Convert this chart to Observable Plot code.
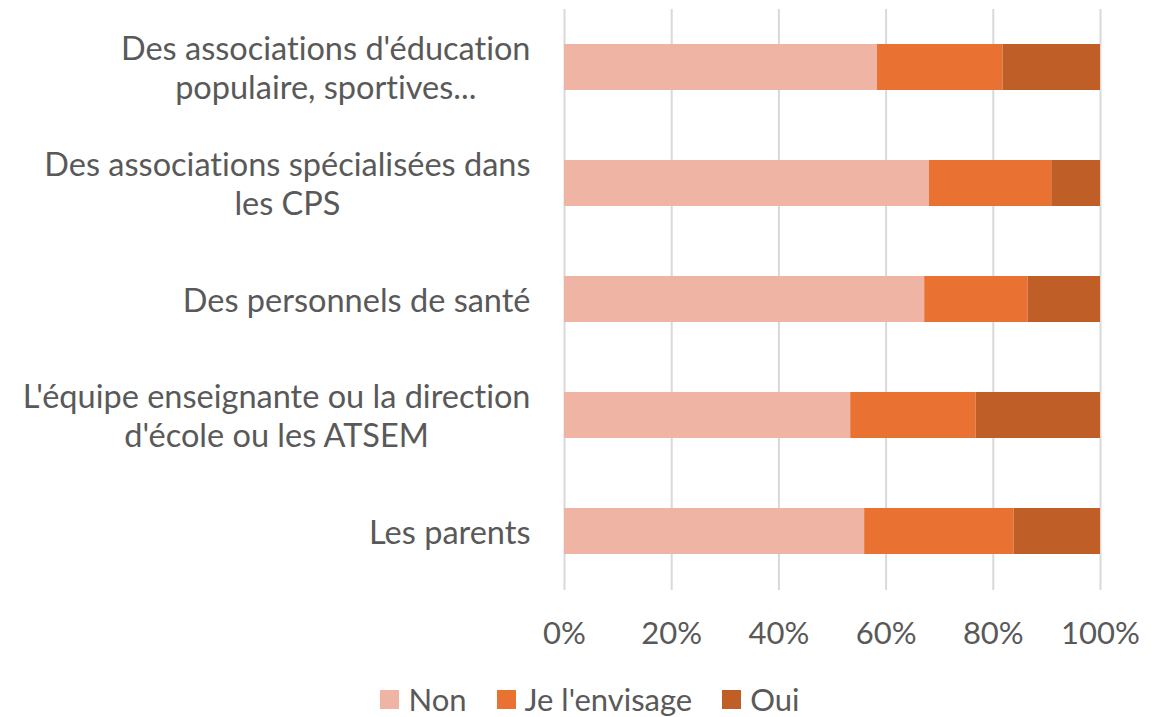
<!DOCTYPE html>
<html>
<head>
<meta charset="utf-8">
<script src="https://cdn.jsdelivr.net/npm/d3@7"></script>
<script src="https://cdn.jsdelivr.net/npm/@observablehq/plot@0.6"></script>
<style>
  html, body { margin: 0; padding: 0; background: #fff; }
  #chart { width: 1168px; height: 717px; font-family: Lato, "Open Sans", sans-serif; font-variant-ligatures: none; }
  #chart svg text { font-variant-ligatures: none; }
  .legend { display: flex; justify-content: center; align-items: center; height: 40px; margin-top: 14px; padding-left: 12px; font-size: 31px; color: #595959; }
  .legend .item { display: flex; align-items: center; margin: 0 15px; }
  .legend .sw { width: 19px; height: 19px; margin-right: 9px; }
</style>
</head>
<body>
<div id="chart"></div>
<script>
const categories = [
  "Des associations d'éducation\npopulaire, sportives...",
  "Des associations spécialisées dans\nles CPS",
  "Des personnels de santé",
  "L'équipe enseignante ou la direction\nd'école ou les ATSEM",
  "Les parents"
];
const series = ["Non", "Je l'envisage", "Oui"];
const nonValues = [58.4, 68.1, 67.2, 53.4, 56.0];
const envisageValues = [23.4, 22.8, 19.3, 23.4, 27.9];
const ouiValues = [18.2, 9.1, 13.5, 23.2, 16.1];
const xTicks = [0, 20, 40, 60, 80, 100];
const colors = ["#F0B4A5", "#E97132", "#C05E28"];

const valuesBySeries = [nonValues, envisageValues, ouiValues];
const rows = [];
categories.forEach((c, i) => {
  series.forEach((s, j) => rows.push({category: c, response: s, value: valuesBySeries[j][i]}));
});

const plot = Plot.plot({
  width: 1168,
  height: 665,
  marginLeft: 564,
  marginRight: 68,
  marginTop: 9,
  marginBottom: 75,
  style: {fontFamily: "Lato, 'Open Sans', sans-serif", color: "#595959", background: "#fff"},
  x: {domain: [0, 100]},
  y: {domain: categories, paddingInner: 0.6, paddingOuter: 0.3},
  color: {domain: series, range: colors},
  marks: [
    Plot.gridX(xTicks, {stroke: "#d9d9d9", strokeOpacity: 1, strokeWidth: 2}),
    Plot.barX(rows, {x: "value", y: "category", fill: "response", order: series}),
    Plot.axisX({ticks: xTicks, tickFormat: d => d + "%", tickSize: 0, tickPadding: 31, fontSize: 31, fill: "#595959", label: null}),
    Plot.axisY({tickSize: 0, tickPadding: 34, fontSize: 32.5, fill: "#595959", lineHeight: 1.2, label: null})
  ]
});

const root = document.getElementById("chart");
root.appendChild(plot);

// Center each line within its (right-aligned) multi-line label block, as in the original
const yGroup = plot.querySelector('g[aria-label="y-axis tick label"]');
if (yGroup) {
  yGroup.querySelectorAll("text").forEach(t => {
    const w = t.getBBox().width;
    t.setAttribute("text-anchor", "middle");
    const spans = t.querySelectorAll("tspan");
    if (spans.length) spans.forEach(s => s.setAttribute("x", -w / 2));
    else t.setAttribute("x", -w / 2);
  });
}

const legend = document.createElement("div");
legend.className = "legend";
series.forEach((s, j) => {
  const item = document.createElement("div");
  item.className = "item";
  const sw = document.createElement("span");
  sw.className = "sw";
  sw.style.background = colors[j];
  const t = document.createElement("span");
  t.textContent = s;
  item.appendChild(sw);
  item.appendChild(t);
  legend.appendChild(item);
});
root.appendChild(legend);
</script>
</body>
</html>
